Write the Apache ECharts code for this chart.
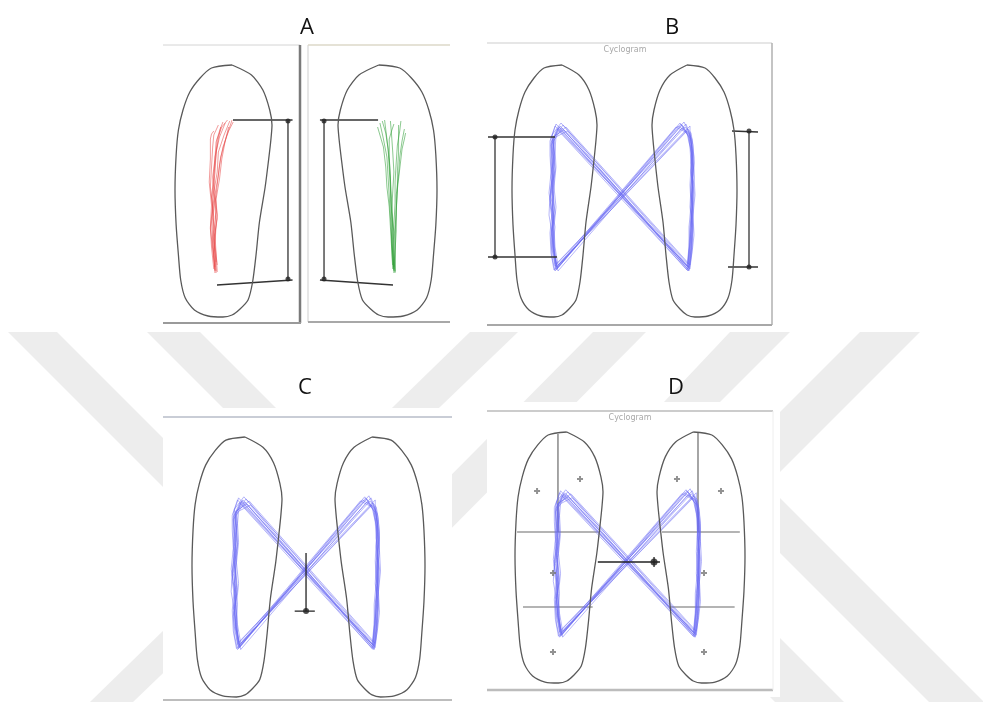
<!DOCTYPE html>
<html>
<head>
<meta charset="utf-8">
<script src="https://cdn.jsdelivr.net/npm/echarts@6/dist/echarts.min.js"></script>
<style>
  html, body { margin: 0; background: #fff; }
  #chart { width: 983px; height: 706px; }
</style>
</head>
<body>
<div id="chart"></div>
<script>
// insole outline of the right foot, local units (x 0..85 across, y 0 heel .. 252 toe)
const FOOT_W = 85;
const FOOT_H = 252;
const footOutline = [[35,252],[53,249],[63,239],[72,225],[78,207],[82,187],[84,162],[85,127],[84,92],[82,62],[80,37],[76,19],[68,7],[56,1],[43,0],[35,2],[28,8],[21,17],[17,35],[14,62],[11,95],[6,130],[3,157],[1,177],[0,192],[2,207],[8,227],[18,242],[35,252]];

// centre of pressure per stride, heel -> toe (left foot part / right foot part)
const strideLeft = [
  [[44,48],[42,64],[40,82],[42,100],[39,120],[41,140],[40,160],[42,176],[47,190]],
  [[45,50],[41,68],[40,86],[43,104],[41,126],[43,146],[42,164],[41,178],[51,192]],
  [[43,46],[40,60],[39,78],[41,98],[38,118],[40,138],[39,156],[39,174],[45,188]],
  [[46,52],[43,70],[42,90],[44,110],[42,130],[44,150],[43,168],[42,180],[54,190]],
  [[44,47],[41,66],[40,84],[37,102],[38,122],[41,142],[40,162],[39,178],[44,193]],
  [[45,49],[42,68],[41,88],[42,108],[40,128],[43,148],[42,166],[41,180],[52,187]],
  [[43,51],[40,68],[39,84],[41,104],[40,124],[42,144],[41,160],[40,176],[48,191]],
  [[46,46],[43,62],[42,80],[40,100],[41,120],[39,140],[40,158],[39,172],[50,189]],
  [[44,53],[42,72],[41,92],[38,112],[39,132],[42,152],[41,170],[40,182],[49,194]],
  [[45,48],[42,66],[40,86],[42,106],[41,126],[40,146],[42,164],[41,176],[46,189]],
  [[44,50],[41,70],[43,90],[40,110],[42,130],[41,150],[43,168],[44,180],[55,186]],
  [[42,47],[39,64],[38,84],[40,104],[37,124],[39,144],[38,162],[38,176],[43,191]]
];
const strideRight = [
  [[36,48],[38,70],[38,90],[40,110],[39,130],[40,150],[39,165],[36,182],[30,192]],
  [[37,50],[39,68],[40,88],[39,108],[40,128],[41,148],[40,168],[38,184],[33,190]],
  [[35,47],[37,66],[39,85],[40,105],[41,125],[39,145],[40,160],[37,180],[28,194]],
  [[38,52],[40,72],[41,92],[40,114],[40,135],[42,154],[41,172],[39,184],[36,188]],
  [[36,46],[38,66],[39,86],[41,104],[42,124],[40,144],[41,162],[38,182],[32,195]],
  [[37,49],[39,70],[40,90],[38,110],[39,132],[41,152],[40,170],[37,184],[26,191]],
  [[35,51],[37,70],[38,87],[40,107],[41,127],[39,147],[40,166],[38,182],[34,193]],
  [[37,47],[39,64],[40,84],[41,102],[40,122],[42,140],[41,158],[39,178],[30,189]],
  [[36,53],[38,74],[39,94],[41,114],[41,134],[39,154],[40,174],[38,186],[38,191]],
  [[38,48],[40,68],[41,88],[39,108],[40,128],[41,148],[39,168],[37,182],[29,193]],
  [[37,46],[40,64],[42,82],[41,102],[43,122],[42,142],[42,160],[40,178],[35,186]],
  [[36,50],[37,70],[37,90],[39,112],[38,132],[39,152],[38,170],[35,184],[24,190]]
];

// panel A single foot traces
const redTraces = [
  [[35,44],[34,62],[33,80],[34,100],[32,120],[34,140],[35,160],[39,180],[44,194]],
  [[36,46],[35,66],[34,85],[36,105],[34,125],[37,145],[38,165],[43,182],[48,196]],
  [[34,48],[32,70],[31,90],[33,110],[31,130],[32,150],[33,170],[34,182],[38,192]],
  [[37,45],[36,64],[35,82],[37,102],[35,122],[38,142],[40,160],[45,180],[50,197]],
  [[35,50],[33,72],[32,95],[34,118],[33,140],[35,158],[36,175],[39,186],[42,195]],
  [[36,44],[35,60],[34,78],[37,98],[36,118],[39,138],[41,158],[44,176],[47,190]],
  [[35,47],[33,68],[31,88],[32,112],[30,135],[31,158],[31,178],[32,183],[34,186]],
  [[37,52],[35,72],[36,92],[35,112],[37,132],[39,152],[42,170],[47,186],[51,195]],
  [[36,55],[34,76],[33,98],[35,120],[34,142],[36,162],[37,178],[41,190],[46,197]],
  [[35,46],[34,64],[35,84],[33,104],[33,124],[35,144],[36,164],[38,178],[40,190]]
];
const greenTraces = [
  [[48,44],[47,62],[46,80],[45,100],[44,120],[43,140],[42,160],[39,178],[36,194]],
  [[48,46],[47,66],[48,85],[46,105],[47,125],[48,145],[47,165],[46,182],[45,196]],
  [[49,45],[49,64],[49,82],[50,102],[50,122],[52,142],[53,160],[55,176],[57,188]],
  [[47,48],[46,70],[45,90],[44,110],[42,130],[41,150],[39,170],[36,182],[34,190]],
  [[48,50],[48,72],[48,92],[49,114],[49,135],[50,155],[51,172],[53,186],[54,196]],
  [[49,44],[48,60],[47,78],[47,98],[46,118],[45,138],[44,158],[42,178],[40,197]],
  [[48,47],[49,68],[49,88],[50,108],[51,128],[53,148],[55,168],[57,178],[58,184]],
  [[47,52],[46,74],[46,95],[45,118],[45,140],[44,160],[44,178],[46,186],[48,193]],
  [[48,48],[47,68],[47,88],[46,108],[45,128],[44,148],[43,168],[41,184],[38,196]],
  [[49,46],[49,66],[50,86],[50,106],[51,126],[51,146],[52,164],[52,178],[52,192]]
];

// stance length brackets
const aLeftRange = [[[50.8,197],[103,197]], [[99,196],[99,38]], [[36.8,32],[103,37]]];
const aLeftRangeEnds = [[99,196],[99,38]];
const aRightRange = [[[-15.5,197],[34.4,197]], [[-12,196],[-12,38]], [[-15.5,37],[47.2,32]]];
const aRightRangeEnds = [[-12,196],[-12,38]];
const bLeftRange = [[[-24,180],[43,180]], [[-17,180],[-17,60]], [[-24,60],[45,60]]];
const bLeftRangeEnds = [[-17,180],[-17,60]];
const bRightRange = [[[80,186],[106,185]], [[97,186],[97,50]], [[76,50],[106,50]]];
const bRightRangeEnds = [[97,186],[97,50]];

// symmetry markers
const cMarker = [[[107.7,139.5],[107.7,83.3]], [[97,83.3],[116,83.3]]];
const cMarkerDot = [[107.7,83.3]];
const dMarker = [[[80,121.5],[140,121.5]], [[134.3,116.5],[134.3,126.5]]];
const dMarkerDot = [[134.3,121.5]];

// panel D insole zones and sensor centres
const dZonesLeft = [[[41.5,250],[41.5,151.6]], [[2,151.6],[80,151.6]], [[7.7,76.3],[75,76.3]]];
const dZonesRight = [[[39.6,251],[39.6,151.6]], [[4.8,151.6],[80,151.6]], [[12.6,76.3],[75,76.3]]];
const dSensorsLeft = [[21.3,192.8],[62.8,204.8],[36.7,110.4],[36.7,31.1]];
const dSensorsRight = [[19.3,204.8],[61.8,192.8],[45.4,110.4],[45.4,31.1]];

// layout in pixels: panel frame and the box of its first foot
const panels = [
  { rect: [163, 45, 137, 278], foot: [175, 65, 97, 252] },
  { rect: [308, 45, 142, 277], foot: [338, 65, 99, 252] },
  { rect: [487, 43, 285, 282], foot: [512, 65, 85, 252], right: 652 },
  { rect: [163, 417, 289, 283], foot: [192, 437, 90, 260], right: 335 },
  { rect: [487, 411, 286, 279], foot: [515, 432, 88, 251], right: 657 }
];

const grids = [], xAxes = [], yAxes = [], offsets = [];
panels.forEach((p, i) => {
  const [L, T, W, H] = p.rect;
  const [fx, fy, fw, fh] = p.foot;
  const sx = FOOT_W / fw, sy = FOOT_H / fh, bottom = fy + fh;
  grids.push({ left: L, top: T, width: W, height: H, show: false });
  xAxes.push({ type: 'value', gridIndex: i, show: false, min: (L - fx) * sx, max: (L + W - fx) * sx });
  yAxes.push({ type: 'value', gridIndex: i, show: false, min: (bottom - T - H) * sy, max: (bottom - T) * sy });
  offsets.push(p.right ? (p.right - fx) * sx : 0);
});

const mirrored = footOutline.map(([x, y]) => [FOOT_W - x, y]);
const shift = (pts, dx) => pts.map(([x, y]) => [x + dx, y]);

const outline = (i, pts) => ({
  type: 'line', xAxisIndex: i, yAxisIndex: i, data: pts, smooth: 0.25,
  showSymbol: false, silent: true, lineStyle: { color: '#595959', width: 1.3 }
});
const paths = (i, polys, color, width, opacity) => ({
  type: 'lines', coordinateSystem: 'cartesian2d', xAxisIndex: i, yAxisIndex: i,
  polyline: true, silent: true, data: polys.map(c => ({ coords: c })),
  lineStyle: { color: color, width: width, opacity: opacity }
});
const dots = (i, pts, size, color, symbol) => ({
  type: 'scatter', xAxisIndex: i, yAxisIndex: i, data: pts, symbol: symbol || 'circle',
  symbolSize: size, silent: true, itemStyle: { color: color }
});
const butterfly = (off) => strideLeft.map((l, k) => [...l, ...shift(strideRight[k], off), l[0]]);
const plus = 'path://M2,0H4V2H6V4H4V6H2V4H0V2H2Z';
const BLUE = '#6a6af2';

const series = [
  // A
  outline(0, mirrored),
  paths(0, redTraces, '#e84a4a', 1, 0.55),
  paths(0, aLeftRange, '#333', 1.3, 1),
  dots(0, aLeftRangeEnds, 5, '#222'),
  outline(1, footOutline),
  paths(1, greenTraces, '#2c9c33', 1, 0.55),
  paths(1, aRightRange, '#333', 1.3, 1),
  dots(1, aRightRangeEnds, 5, '#222'),
  // B
  outline(2, mirrored),
  outline(2, shift(footOutline, offsets[2])),
  paths(2, butterfly(offsets[2]), BLUE, 0.9, 0.55),
  paths(2, bLeftRange, '#333', 1.3, 1),
  dots(2, bLeftRangeEnds, 5, '#222'),
  paths(2, bRightRange.map(s => shift(s, offsets[2])), '#333', 1.3, 1),
  dots(2, shift(bRightRangeEnds, offsets[2]), 5, '#222'),
  // C
  outline(3, mirrored),
  outline(3, shift(footOutline, offsets[3])),
  paths(3, butterfly(offsets[3]), BLUE, 0.9, 0.55),
  paths(3, cMarker, '#222', 1.3, 1),
  dots(3, cMarkerDot, 6, '#222'),
  // D
  outline(4, mirrored),
  outline(4, shift(footOutline, offsets[4])),
  paths(4, dZonesLeft, '#6a6a6a', 1.2, 1),
  paths(4, dZonesRight.map(s => shift(s, offsets[4])), '#6a6a6a', 1.2, 1),
  dots(4, dSensorsLeft, 6, '#777', plus),
  dots(4, shift(dSensorsRight, offsets[4]), 6, '#777', plus),
  paths(4, butterfly(offsets[4]), BLUE, 0.9, 0.55),
  paths(4, dMarker, '#222', 1.3, 1),
  dots(4, dMarkerDot, 7, '#222')
];

// light watermark behind the figure
const watermark = [
  [[8,332],[57,332],[427,702],[378,702]],
  [[147,332],[200,332],[276,408],[223,408]],
  [[470,332],[518,332],[133,702],[90,702]],
  [[593,332],[646,332],[420,560],[367,560]],
  [[730,332],[790,332],[720,402],[664,402]],
  [[860,332],[920,332],[760,492],[700,492]],
  [[760,478],[984,702],[929,702],[760,533]],
  [[760,618],[844,702],[775,702],[760,687]]
];
const sheets = [[163,42,289,286],[487,40,286,288],[163,408,289,298],[487,402,293,295]];
const borders = [
  [163,45,300,45,'#d4d4d4',1], [300,45,300,323,'#7a7a7a',2.5], [163,323,301,323,'#9a9a9a',2],
  [308,45,308,322,'#cfcfcf',1], [308,45,450,45,'#ddd8c8',1.5], [308,322,450,322,'#a8a8a8',2],
  [487,43,772,43,'#dedede',1.5], [772,43,772,325,'#b0b0b0',1.5], [487,325,772,325,'#a8a8a8',2],
  [163,417,452,417,'#c9cdd6',2], [163,700,452,700,'#bdbdbd',2],
  [487,411,773,411,'#cccccc',2], [487,690,773,690,'#bcbcbc',2.5], [773,411,773,690,'#eeeeee',1]
];
const titles = [['A',307,28],['B',672,28],['C',305,388],['D',676,388]];

const graphic = [
  ...watermark.map(pts => ({ type: 'polygon', shape: { points: pts }, style: { fill: '#ededed' }, silent: true })),
  ...sheets.map(([x, y, w, h]) => ({ type: 'rect', shape: { x, y, width: w, height: h }, style: { fill: '#fff' }, silent: true })),
  ...borders.map(([x1, y1, x2, y2, c, w]) => ({ type: 'line', shape: { x1, y1, x2, y2 }, style: { stroke: c, lineWidth: w }, silent: true })),
  ...titles.map(([t, x, y]) => ({ type: 'text', x, y, silent: true,
    style: { text: t, fill: '#111', font: '22px "Open Sans", sans-serif', textAlign: 'center', textVerticalAlign: 'middle' } })),
  { type: 'text', x: 625, y: 50, silent: true, style: { text: 'Cyclogram', fill: '#a8a8a8', font: '8px "DejaVu Sans", sans-serif', textAlign: 'center', textVerticalAlign: 'middle' } },
  { type: 'text', x: 630, y: 418, silent: true, style: { text: 'Cyclogram', fill: '#a8a8a8', font: '8px "DejaVu Sans", sans-serif', textAlign: 'center', textVerticalAlign: 'middle' } }
];

const chart = echarts.init(document.getElementById('chart'));
chart.setOption({
  animation: false,
  backgroundColor: '#fff',
  graphic: graphic,
  grid: grids,
  xAxis: xAxes,
  yAxis: yAxes,
  series: series
});
</script>
</body>
</html>
